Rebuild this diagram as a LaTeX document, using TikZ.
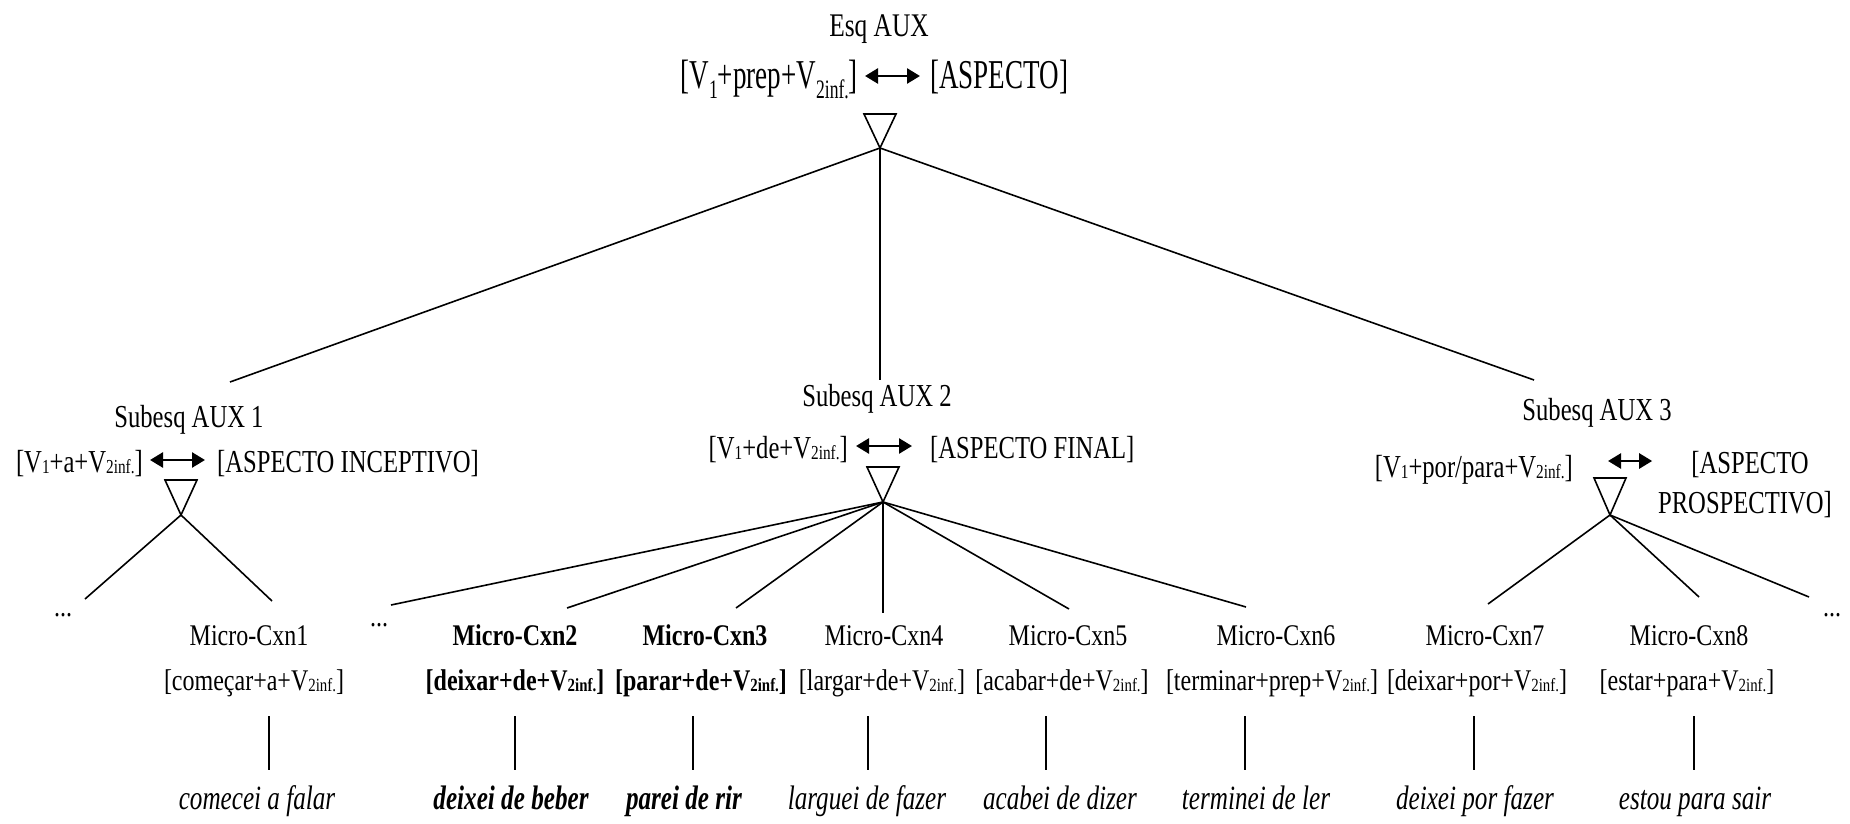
\documentclass[tikz,border=0pt]{standalone}
\usepackage{fontspec}
\usepackage{graphicx}
\setmainfont{Liberation Serif}
\newfontfamily\rootf[FakeStretch=0.66]{Liberation Serif}
\newfontfamily\midf[FakeStretch=0.77]{Liberation Serif}
\newfontfamily\microf[FakeStretch=0.8]{Liberation Serif}
\newfontfamily\exf[FakeStretch=0.74]{Liberation Serif}
\usetikzlibrary{arrows.meta}
\newcommand\subr[1]{\raisebox{-0.5ex}{\scalebox{0.65}{#1}}}
\newcommand\subl[1]{\raisebox{-0.12ex}{\scalebox{0.62}{#1}}}
\tikzset{
  txt/.style={inner sep=0pt, anchor=base},
  rootA/.style={txt, font={\midf\fontsize{33}{38}\selectfont}},
  rootB/.style={txt, font={\rootf\fontsize{41}{46}\selectfont}},
  lvl/.style={txt, font={\midf\fontsize{32}{40}\selectfont}},
  micro/.style={txt, font={\microf\fontsize{30}{36}\selectfont}},
  microb/.style={txt, font={\microf\bfseries\fontsize{30}{36}\selectfont}},
  ex/.style={txt, font={\exf\itshape\fontsize{34}{40}\selectfont}},
  exb/.style={txt, font={\exf\bfseries\itshape\fontsize{34}{40}\selectfont}},
  branch/.style={line width=1.6pt},
  tri/.style={line width=1.6pt, line join=miter},
  biarrow/.style={line width=2.6pt, {Triangle[length=13pt,width=15pt]}-{Triangle[length=13pt,width=15pt]}},
}
\begin{document}
\begin{tikzpicture}[x=1pt,y=-1pt]
\useasboundingbox (0,0) rectangle (1850,824);

% ---------- root ----------
\node[rootA] (root) at (879,37) {Esq AUX};
\node[rootB, anchor=base east] (rl) at (858,89) {[V\subr{1}+prep+V\subr{2inf.}]};
\node[rootB, anchor=base west] (rr) at (930,89) {[ASPECTO]};
\draw[biarrow] ([xshift=7pt,yshift=13pt]rl.base east) -- ([xshift=-10pt,yshift=13pt]rr.base west);
\coordinate (t0) at (880,148);
\draw[tri] (t0) -- ++(-16,-34) -- ++(32,0) -- cycle;

% ---------- level 2 ----------
\node[lvl] (s1) at (189,427) {Subesq AUX 1};
\node[lvl, anchor=base east] (al) at (143,472) {[V\subl{1}+a+V\subl{2inf.}]};
\node[lvl, anchor=base west] (ar) at (217,472) {[ASPECTO INCEPTIVO]};
\draw[biarrow] ([xshift=7pt,yshift=12pt]al.base east) -- ([xshift=-12pt,yshift=12pt]ar.base west);
\coordinate (t1) at (181,515);
\draw[tri] (t1) -- ++(-16,-35) -- ++(32,0) -- cycle;

\node[lvl] (s2) at (877,406) {Subesq AUX 2};
\node[lvl, anchor=base east] (bl) at (848,458) {[V\subl{1}+de+V\subl{2inf.}]};
\node[lvl, anchor=base west] (br) at (930,458) {[ASPECTO FINAL]};
\draw[biarrow] ([xshift=8pt,yshift=12pt]bl.base east) -- ([xshift=-18pt,yshift=12pt]br.base west);
\coordinate (t2) at (883,502);
\draw[tri] (t2) -- ++(-16,-35) -- ++(32,0) -- cycle;

\node[lvl] (s3) at (1597,420) {Subesq AUX 3};
\node[lvl, anchor=base east] (cl) at (1573,477) {[V\subl{1}+por/para+V\subl{2inf.}]};
\node[lvl] (cra) at (1750,473) {[ASPECTO};
\node[lvl] (crb) at (1745,513) {PROSPECTIVO]};
\draw[biarrow] ([xshift=35pt,yshift=16pt]cl.base east) -- ([xshift=-39pt,yshift=12pt]cra.base west);
\coordinate (t3) at (1610,515);
\draw[tri] (t3) -- ++(-16,-37) -- ++(32,0) -- cycle;

% root branches
\coordinate (e1) at (230,382);
\coordinate (e2) at (880,380);
\coordinate (e3) at (1534,380);
\draw[branch] (t0) -- (e1);
\draw[branch] (t0) -- (e2);
\draw[branch] (t0) -- (e3);

% ---------- micro level ----------
\node[micro] (d1) at (63,616) {...};
\node[micro] (d2) at (379,626) {...};
\node[micro] (d3) at (1832,616) {...};

\node[micro]  (m1) at (249,645) {Micro-Cxn1};
\node[microb] (m2) at (515,645) {Micro-Cxn2};
\node[microb] (m3) at (705,645) {Micro-Cxn3};
\node[micro]  (m4) at (884,645) {Micro-Cxn4};
\node[micro]  (m5) at (1068,645) {Micro-Cxn5};
\node[micro]  (m6) at (1276,645) {Micro-Cxn6};
\node[micro]  (m7) at (1485,645) {Micro-Cxn7};
\node[micro]  (m8) at (1689,645) {Micro-Cxn8};

\node[micro]  (b1) at (254,690) {[começar+a+V\subl{2inf.}]};
\node[microb] (b2) at (515,690) {[deixar+de+V\subl{2inf.}]};
\node[microb] (b3) at (701,690) {[parar+de+V\subl{2inf.}]};
\node[micro]  (b4) at (882,690) {[largar+de+V\subl{2inf.}]};
\node[micro]  (b5) at (1062,690) {[acabar+de+V\subl{2inf.}]};
\node[micro]  (b6) at (1272,690) {[terminar+prep+V\subl{2inf.}]};
\node[micro]  (b7) at (1477,690) {[deixar+por+V\subl{2inf.}]};
\node[micro]  (b8) at (1687,690) {[estar+para+V\subl{2inf.}]};

% branches from subschemas
\coordinate (f1) at (85,599);
\coordinate (f2) at (272,601);
\draw[branch] (t1) -- (f1);
\draw[branch] (t1) -- (f2);

\coordinate (g1) at (391,605);
\coordinate (g2) at (567,608);
\coordinate (g3) at (736,608);
\coordinate (g4) at (883,613);
\coordinate (g5) at (1069,609);
\coordinate (g6) at (1246,607);
\foreach \g in {g1,g2,g3,g4,g5,g6} \draw[branch] (t2) -- (\g);

\coordinate (h1) at (1488,604);
\coordinate (h2) at (1699,597);
\coordinate (h3) at (1809,597);
\foreach \h in {h1,h2,h3} \draw[branch] (t3) -- (\h);

% ---------- examples ----------
\node[ex]  (x1) at (257,809) {comecei a falar};
\node[exb] (x2) at (511,809) {deixei de beber};
\node[exb] (x3) at (684,809) {parei de rir};
\node[ex]  (x4) at (867,809) {larguei de fazer};
\node[ex]  (x5) at (1060,809) {acabei de dizer};
\node[ex]  (x6) at (1256,809) {terminei de ler};
\node[ex]  (x7) at (1475,809) {deixei por fazer};
\node[ex]  (x8) at (1695,809) {estou para sair};

\foreach \i/\xx in {1/269,2/515,3/693,4/868,5/1046,6/1245,7/1474,8/1694}{
  \coordinate (vt\i) at (\xx,716);
  \coordinate (vb\i) at (\xx,770);
  \draw[line width=1.3pt] (vt\i) -- (vb\i);
}
\end{tikzpicture}
\end{document}
